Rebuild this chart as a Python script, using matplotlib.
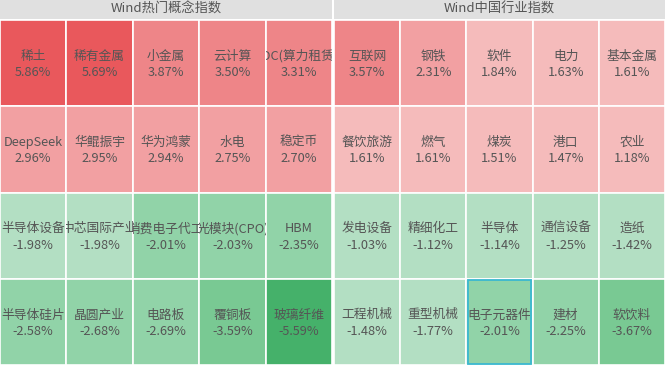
import matplotlib
matplotlib.use("Agg")
import matplotlib.pyplot as plt
from matplotlib.patches import Rectangle

plt.rcParams['font.family'] = ['Noto Sans CJK SC', 'DejaVu Sans']

# Wind热门概念指数
concept_names = ["稀土", "稀有金属", "小金属", "云计算", "IDC(算力租赁)",
                 "DeepSeek", "华鲲振宇", "华为鸿蒙", "水电", "稳定币",
                 "半导体设备", "中芯国际产业", "消费电子代工", "光模块(CPO)", "HBM",
                 "半导体硅片", "晶圆产业", "电路板", "覆铜板", "玻璃纤维"]
concept_values = [5.86, 5.69, 3.87, 3.50, 3.31,
                  2.96, 2.95, 2.94, 2.75, 2.70,
                  -1.98, -1.98, -2.01, -2.03, -2.35,
                  -2.58, -2.68, -2.69, -3.59, -5.59]

# Wind中国行业指数
industry_names = ["互联网", "钢铁", "软件", "电力", "基本金属",
                  "餐饮旅游", "燃气", "煤炭", "港口", "农业",
                  "发电设备", "精细化工", "半导体", "通信设备", "造纸",
                  "工程机械", "重型机械", "电子元器件", "建材", "软饮料"]
industry_values = [3.57, 2.31, 1.84, 1.63, 1.61,
                   1.61, 1.61, 1.51, 1.47, 1.18,
                   -1.03, -1.12, -1.14, -1.25, -1.42,
                   -1.48, -1.77, -2.01, -2.25, -3.67]

titles = ["Wind热门概念指数", "Wind中国行业指数"]
highlight = ("Wind中国行业指数", "电子元器件")


def cell_color(v):
    if v >= 5:
        return "#E9585C"
    if v >= 3:
        return "#EE8588"
    if v >= 2:
        return "#F2A0A2"
    if v >= 0:
        return "#F5BBBB"
    if v > -2:
        return "#B3DFC3"
    if v > -3:
        return "#91D3A8"
    if v > -5:
        return "#79C993"
    return "#45B16A"


W, H = 667, 367
fig = plt.figure(figsize=(W / 100, H / 100), dpi=100)
fig.patch.set_facecolor("white")

panels = [(0, 332, concept_names, concept_values),
          (334, 665, industry_names, industry_values)]
ncols, nrows = 5, 4
head_h, bottom = 19, 365

for (x0, x1, names, values), title in zip(panels, titles):
    # header
    hax = fig.add_axes([x0 / W, 1 - head_h / H, (x1 - x0) / W, head_h / H])
    hax.set_axis_off()
    hax.add_patch(Rectangle((0, 0), 1, 1, facecolor="#E0E0E0", edgecolor="none",
                            transform=hax.transAxes))
    hax.text(0.5, 0.5, title, ha="center", va="center", fontsize=9.5,
             color="#555555", transform=hax.transAxes)

    # grid of cells
    y0 = head_h + 1
    ax = fig.add_axes([x0 / W, 1 - bottom / H, (x1 - x0) / W, (bottom - y0) / H])
    ax.set_xlim(0, ncols)
    ax.set_ylim(nrows, 0)
    ax.set_axis_off()
    for i, (name, v) in enumerate(zip(names, values)):
        r, c = divmod(i, ncols)
        rect = Rectangle((c, r), 1, 1, facecolor=cell_color(v),
                         edgecolor="white", linewidth=1.2)
        ax.add_patch(rect)
        for txt, dy in ((name, 0.42), (f"{v:.2f}%", 0.61)):
            t = ax.text(c + 0.5, r + dy, txt, ha="center", va="center",
                        fontsize=9.2, color="#555555", clip_on=True)
            t.set_clip_path(rect)
        if (title, name) == highlight:
            ax.add_patch(Rectangle((c + 0.02, r + 0.01), 0.96, 0.98,
                                   facecolor="none", edgecolor="#3BB8D0",
                                   linewidth=1.3, zorder=5))

fig.savefig("out.png", dpi=100)
